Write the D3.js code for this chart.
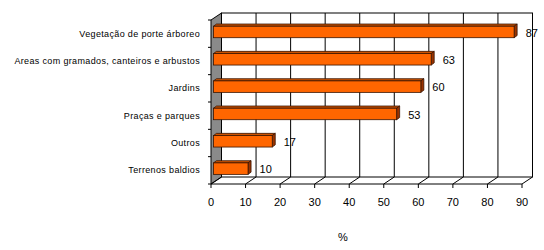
<!DOCTYPE html>
<html>
<head>
<meta charset="utf-8">
<script src="https://cdn.jsdelivr.net/npm/d3@7"></script>
<style>
  body { margin: 0; background: #fff; }
  svg { display: block; font-family: 'Liberation Sans', Arial, sans-serif; }
  .cat { font-size: 9px; letter-spacing: 0.35px; }
  .num { font-size: 11px; }
</style>
</head>
<body>
<svg width="544" height="250"></svg>
<script>
'use strict';

const categories = [
  'Vegetação de porte árboreo',
  'Areas com gramados, canteiros e arbustos',
  'Jardins',
  'Praças e parques',
  'Outros',
  'Terrenos baldios'
];
const values = [87, 63, 60, 53, 17, 10];
const xTicks = [0, 10, 20, 30, 40, 50, 60, 70, 80, 90];
const axisTitle = '%';

const svg = d3.select('svg');

// front plane of the 3d box
const plotTop = 20, plotBottom = 184;
const x = d3.scaleLinear().domain([0, 90]).range([211, 522]);
const y = d3.scaleBand().domain(categories).range([plotTop, plotBottom]).paddingInner(0.58).paddingOuter(0.29);
const band = d3.scaleBand().domain(categories).range([plotTop, plotBottom]);

// depth of the box and of the bars
const dx = 10.5, dy = -7;
const bx = 2.5, by = -1.7, bdx = 3, bdy = -2.2;

const x0 = x(0), x1 = x(90);

// left wall
svg.append('polygon')
  .attr('points', [[x0, plotTop], [x0 + dx, plotTop + dy], [x0 + dx, plotBottom + dy], [x0, plotBottom]].join(' '))
  .attr('fill', '#8a8a8a')
  .attr('stroke', '#000')
  .attr('stroke-width', 1);

// back wall
svg.append('rect')
  .attr('x', x0 + dx)
  .attr('y', plotTop + dy)
  .attr('width', x1 - x0)
  .attr('height', plotBottom - plotTop)
  .attr('fill', '#fff')
  .attr('stroke', '#000');

svg.append('g')
  .selectAll('line')
  .data(xTicks.slice(1))
  .enter().append('line')
    .attr('x1', d => x(d) + dx)
    .attr('x2', d => x(d) + dx)
    .attr('y1', plotTop + dy)
    .attr('y2', plotBottom + dy)
    .attr('stroke', '#000');

// floor
svg.append('line')
  .attr('x1', x0).attr('x2', x1)
  .attr('y1', plotBottom).attr('y2', plotBottom)
  .attr('stroke', '#000');

svg.append('g')
  .selectAll('line')
  .data(xTicks)
  .enter().append('line')
    .attr('x1', d => x(d))
    .attr('y1', plotBottom)
    .attr('x2', d => x(d) + dx)
    .attr('y2', plotBottom + dy)
    .attr('stroke', '#000');

// x ticks
svg.append('g')
  .selectAll('line')
  .data(xTicks)
  .enter().append('line')
    .attr('x1', d => x(d))
    .attr('x2', d => x(d))
    .attr('y1', plotBottom)
    .attr('y2', plotBottom + 4)
    .attr('stroke', '#000');

svg.append('g')
  .attr('class', 'num')
  .selectAll('text')
  .data(xTicks)
  .enter().append('text')
    .attr('x', d => x(d))
    .attr('y', 206)
    .attr('text-anchor', 'middle')
    .text(d => d);

// y ticks on the left edge
const yBounds = categories.map(c => band(c)).concat([plotBottom]);
svg.append('g')
  .selectAll('line')
  .data(yBounds)
  .enter().append('line')
    .attr('x1', x0 - 3)
    .attr('x2', x0)
    .attr('y1', d => d)
    .attr('y2', d => d)
    .attr('stroke', '#000');

// bars
const rows = categories.map((c, i) => ({ cat: c, value: values[i] }));
const bar = svg.append('g')
  .selectAll('g')
  .data(rows)
  .enter().append('g');

bar.append('polygon')
  .attr('points', d => {
    const xa = x0 + bx, xb = x(d.value) + bx, ya = y(d.cat) + by;
    return [[xa, ya], [xa + bdx, ya + bdy], [xb + bdx, ya + bdy], [xb, ya]].join(' ');
  })
  .attr('fill', '#cc5200')
  .attr('stroke', '#3a1400')
  .attr('stroke-width', 0.8);

bar.append('polygon')
  .attr('points', d => {
    const xb = x(d.value) + bx, ya = y(d.cat) + by, yb = ya + y.bandwidth();
    return [[xb, ya], [xb + bdx, ya + bdy], [xb + bdx, yb + bdy], [xb, yb]].join(' ');
  })
  .attr('fill', '#993300')
  .attr('stroke', '#3a1400')
  .attr('stroke-width', 0.8);

bar.append('rect')
  .attr('x', x0 + bx)
  .attr('y', d => y(d.cat) + by)
  .attr('width', d => x(d.value) - x0)
  .attr('height', y.bandwidth())
  .attr('fill', '#ff6600')
  .attr('stroke', '#3a1400')
  .attr('stroke-width', 0.8);

// value labels
svg.append('g')
  .attr('class', 'num')
  .selectAll('text')
  .data(rows)
  .enter().append('text')
    .attr('x', d => x(d.value) + 14)
    .attr('y', d => band(d.cat) + band.bandwidth() / 2 - 1)
    .attr('dy', '0.35em')
    .text(d => d.value);

// category labels
svg.append('g')
  .attr('class', 'cat')
  .selectAll('text')
  .data(categories)
  .enter().append('text')
    .attr('x', 200)
    .attr('y', d => band(d) + band.bandwidth() / 2)
    .attr('dy', '0.35em')
    .attr('text-anchor', 'end')
    .text(d => d);

svg.append('text')
  .attr('class', 'num')
  .attr('x', 343)
  .attr('y', 237)
  .attr('dy', '0.35em')
  .attr('text-anchor', 'middle')
  .text(axisTitle);
</script>
</body>
</html>
